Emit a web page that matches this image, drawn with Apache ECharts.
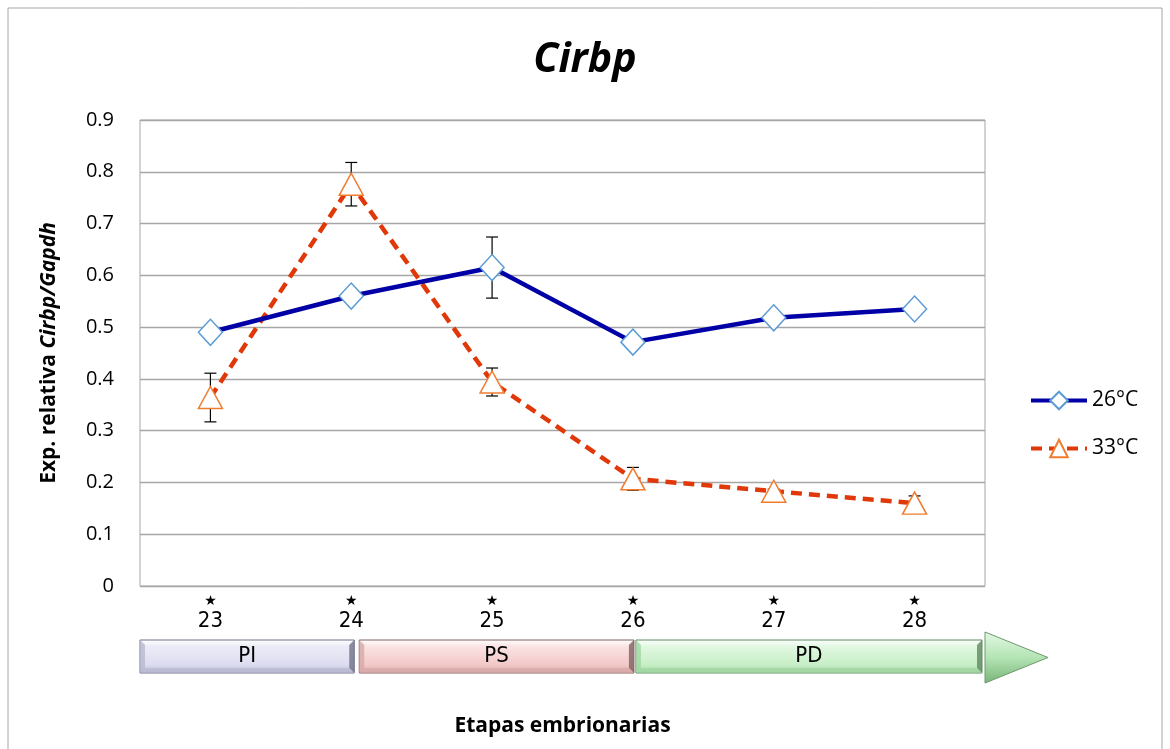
<!DOCTYPE html>
<html>
<head>
<meta charset="utf-8">
<script src="https://cdn.jsdelivr.net/npm/echarts@6/dist/echarts.min.js"></script>
<style>
  html, body { margin: 0; padding: 0; background: #fff; }
  #chart { width: 1170px; height: 749px; }
</style>
</head>
<body>
<div id="chart"></div>
<script>
// Embryonic stages (x axis)
const stages = ['23', '24', '25', '26', '27', '28'];
// Relative expression Cirbp/Gapdh, mean and error
const series26 = [0.49, 0.56, 0.615, 0.471, 0.518, 0.535];
const err26 = [0.008, 0.006, 0.059, 0.008, 0.004, 0.004];
const series33 = [0.364, 0.776, 0.394, 0.207, 0.183, 0.160];
const err33 = [0.047, 0.042, 0.027, 0.022, 0.004, 0.014];
const yTicks = [0, 0.1, 0.2, 0.3, 0.4, 0.5, 0.6, 0.7, 0.8, 0.9];
// Developmental phases spanning stage ranges
const phaseNames = ['PI', 'PS', 'PD'];
const phaseFrom = ['23', '24', '26'];
const phaseTo = ['24', '26', '28'];

const NARROW = '"DejaVu Sans Condensed", "Liberation Sans Narrow", "Open Sans"';

const chart = echarts.init(document.getElementById('chart'), null, { renderer: 'canvas' });

function errorBars(means, errs) {
  return means.map((m, i) => [i, m - errs[i], m + errs[i]]);
}

function renderError(params, api) {
  const lo = api.coord([api.value(0), api.value(1)]);
  const hi = api.coord([api.value(0), api.value(2)]);
  const cap = 6;
  const style = { stroke: '#000', lineWidth: 1.2 };
  return {
    type: 'group',
    children: [
      { type: 'line', shape: { x1: hi[0], y1: hi[1], x2: lo[0], y2: lo[1] }, style },
      { type: 'line', shape: { x1: hi[0] - cap, y1: hi[1], x2: hi[0] + cap, y2: hi[1] }, style },
      { type: 'line', shape: { x1: lo[0] - cap, y1: lo[1], x2: lo[0] + cap, y2: lo[1] }, style }
    ]
  };
}

const option = {
  animation: false,
  backgroundColor: '#fff',
  title: {
    text: 'Cirbp',
    left: 'center',
    top: 35,
    textStyle: { fontFamily: 'Open Sans', fontSize: 41, fontWeight: 'bold', fontStyle: 'italic', color: '#000' }
  },
  legend: {
    orient: 'vertical',
    left: 1024,
    top: 385,
    itemWidth: 56,
    itemHeight: 22,
    itemGap: 27,
    textStyle: { fontFamily: 'Open Sans', fontSize: 21, color: '#000' },
    lineStyle: { width: 4 },
    data: ['26°C', '33°C']
  },
  grid: {
    left: 140, right: 185, top: 120, bottom: 163,
    show: true, borderColor: '#a6a6a6', borderWidth: 1
  },
  xAxis: {
    type: 'category',
    data: stages,
    boundaryGap: true,
    axisLine: { show: false },
    axisTick: { show: false },
    axisLabel: {
      margin: 7,
      formatter: v => '{s|★}\n{n|' + v + '}',
      rich: {
        s: { fontSize: 14, color: '#000', lineHeight: 16, fontFamily: 'DejaVu Sans' },
        n: { fontSize: 22, color: '#000', lineHeight: 24, fontFamily: NARROW }
      }
    },
    name: 'Etapas embrionarias',
    nameLocation: 'middle',
    nameGap: 130,
    nameTextStyle: { fontFamily: 'Open Sans', fontSize: 21, fontWeight: 'bold', color: '#000' }
  },
  yAxis: {
    type: 'value',
    min: 0, max: 0.9, interval: 0.1,
    axisLine: { show: false },
    axisTick: { show: false },
    splitLine: { lineStyle: { color: '#a6a6a6', width: 1.3 } },
    axisLabel: {
      margin: 26,
      fontFamily: 'Open Sans', fontSize: 20, color: '#000',
      formatter: v => {
        const t = yTicks.find(k => Math.abs(k - v) < 1e-9);
        return t === undefined ? '' : String(t);
      }
    },
    name: '{n|Exp. relativa }{i|Cirbp/Gapdh}',
    nameLocation: 'middle',
    nameGap: 80,
    nameRotate: 90,
    nameTextStyle: {
      rich: {
        n: { fontFamily: 'Open Sans', fontSize: 21, fontWeight: 'bold', color: '#000' },
        i: { fontFamily: 'Open Sans', fontSize: 21, fontWeight: 'bold', fontStyle: 'italic', color: '#000' }
      }
    }
  },
  series: [
    {
      name: '26°C-err', type: 'custom', renderItem: renderError,
      data: errorBars(series26, err26), z: 3, silent: true
    },
    {
      name: '33°C-err', type: 'custom', renderItem: renderError,
      data: errorBars(series33, err33), z: 3, silent: true
    },
    {
      name: '26°C', type: 'line', data: series26, z: 5,
      symbol: 'diamond', symbolSize: [24, 26],
      lineStyle: { color: '#0000a6', width: 4.5 },
      itemStyle: { color: '#fff', borderColor: '#5b9bd5', borderWidth: 1.5 },
      color: '#0000a6'
    },
    {
      name: '33°C', type: 'line', data: series33, z: 4,
      symbol: 'triangle', symbolSize: [24, 22],
      lineStyle: { color: '#e03808', width: 4.5, type: [11, 7] },
      itemStyle: { color: '#fff', borderColor: '#f07c30', borderWidth: 1.5 },
      color: '#e03808'
    }
  ]
};

chart.setOption(option);

// Phase bar beneath the axis, laid out from the category positions
function bevelBox(x0, x1, y0, y1, light, mid, dark, edge, label) {
  const w = x1 - x0, b = 5;
  return [
    {
      type: 'rect', shape: { x: x0, y: y0, width: w, height: y1 - y0 },
      style: {
        fill: new echarts.graphic.LinearGradient(0, 0, 0, 1, [
          { offset: 0, color: '#ffffff' },
          { offset: 0.2, color: light },
          { offset: 0.75, color: mid },
          { offset: 1, color: dark }
        ]),
        stroke: edge, lineWidth: 1
      }
    },
    { type: 'polygon', shape: { points: [[x0, y0], [x0 + b, y0 + b], [x0 + b, y1 - b], [x0, y1]] }, style: { fill: dark, opacity: 0.8 } },
    { type: 'polygon', shape: { points: [[x1, y0], [x1 - b, y0 + b], [x1 - b, y1 - b], [x1, y1]] }, style: { fill: edge, opacity: 0.8 } },
    { type: 'polygon', shape: { points: [[x0, y1], [x0 + b, y1 - b], [x1 - b, y1 - b], [x1, y1]] }, style: { fill: dark, opacity: 0.7 } },
    {
      type: 'text', style: {
        x: (x0 + x1) / 2, y: (y0 + y1) / 2, text: label,
        fill: '#000', font: '22px ' + NARROW,
        align: 'center', verticalAlign: 'middle'
      }
    }
  ];
}

function layoutPhases() {
  const px = c => chart.convertToPixel({ xAxisIndex: 0 }, c);
  const band = px('24') - px('23');
  const y0 = 640, y1 = 673;
  const palettes = [
    ['#ececf8', '#dcdcf0', '#b8b8d0', '#70708a'],
    ['#fbe4e4', '#f2c8c8', '#d8a8a8', '#806060'],
    ['#e2f8e2', '#c6eec6', '#a0d4a0', '#5e8a5e']
  ];
  const left = px(phaseFrom[0]) - band / 2;
  const right = px(phaseTo[2]) + band / 2;
  const elements = [];
  phaseNames.forEach((name, i) => {
    const x0 = i === 0 ? left : px(phaseFrom[i]) + (i === 1 ? 8 : 3);
    const x1 = i === 2 ? right - 3 : px(phaseTo[i]) + (i === 0 ? 3 : 1);
    const p = palettes[i];
    elements.push(...bevelBox(x0, x1, y0, y1, p[0], p[1], p[2], p[3], name));
  });
  // arrow head closing the stage sequence
  elements.push({
    type: 'polygon',
    shape: { points: [[right, y0 - 8], [right + 63, (y0 + y1) / 2 + 1], [right, y1 + 10]] },
    style: {
      fill: new echarts.graphic.LinearGradient(0, 0, 0, 1, [
        { offset: 0, color: '#e4f8e4' },
        { offset: 0.5, color: '#b4e4b4' },
        { offset: 1, color: '#78b478' }
      ]),
      stroke: '#6e9a6e', lineWidth: 1
    }
  });
  // outer chart frame
  elements.push({
    type: 'rect', shape: { x: 8, y: 8, width: 1154, height: 760 },
    style: { fill: 'none', stroke: '#a6a6a6', lineWidth: 1 }, z: -1
  });
  chart.setOption({ graphic: elements });
}

layoutPhases();
</script>
</body>
</html>
